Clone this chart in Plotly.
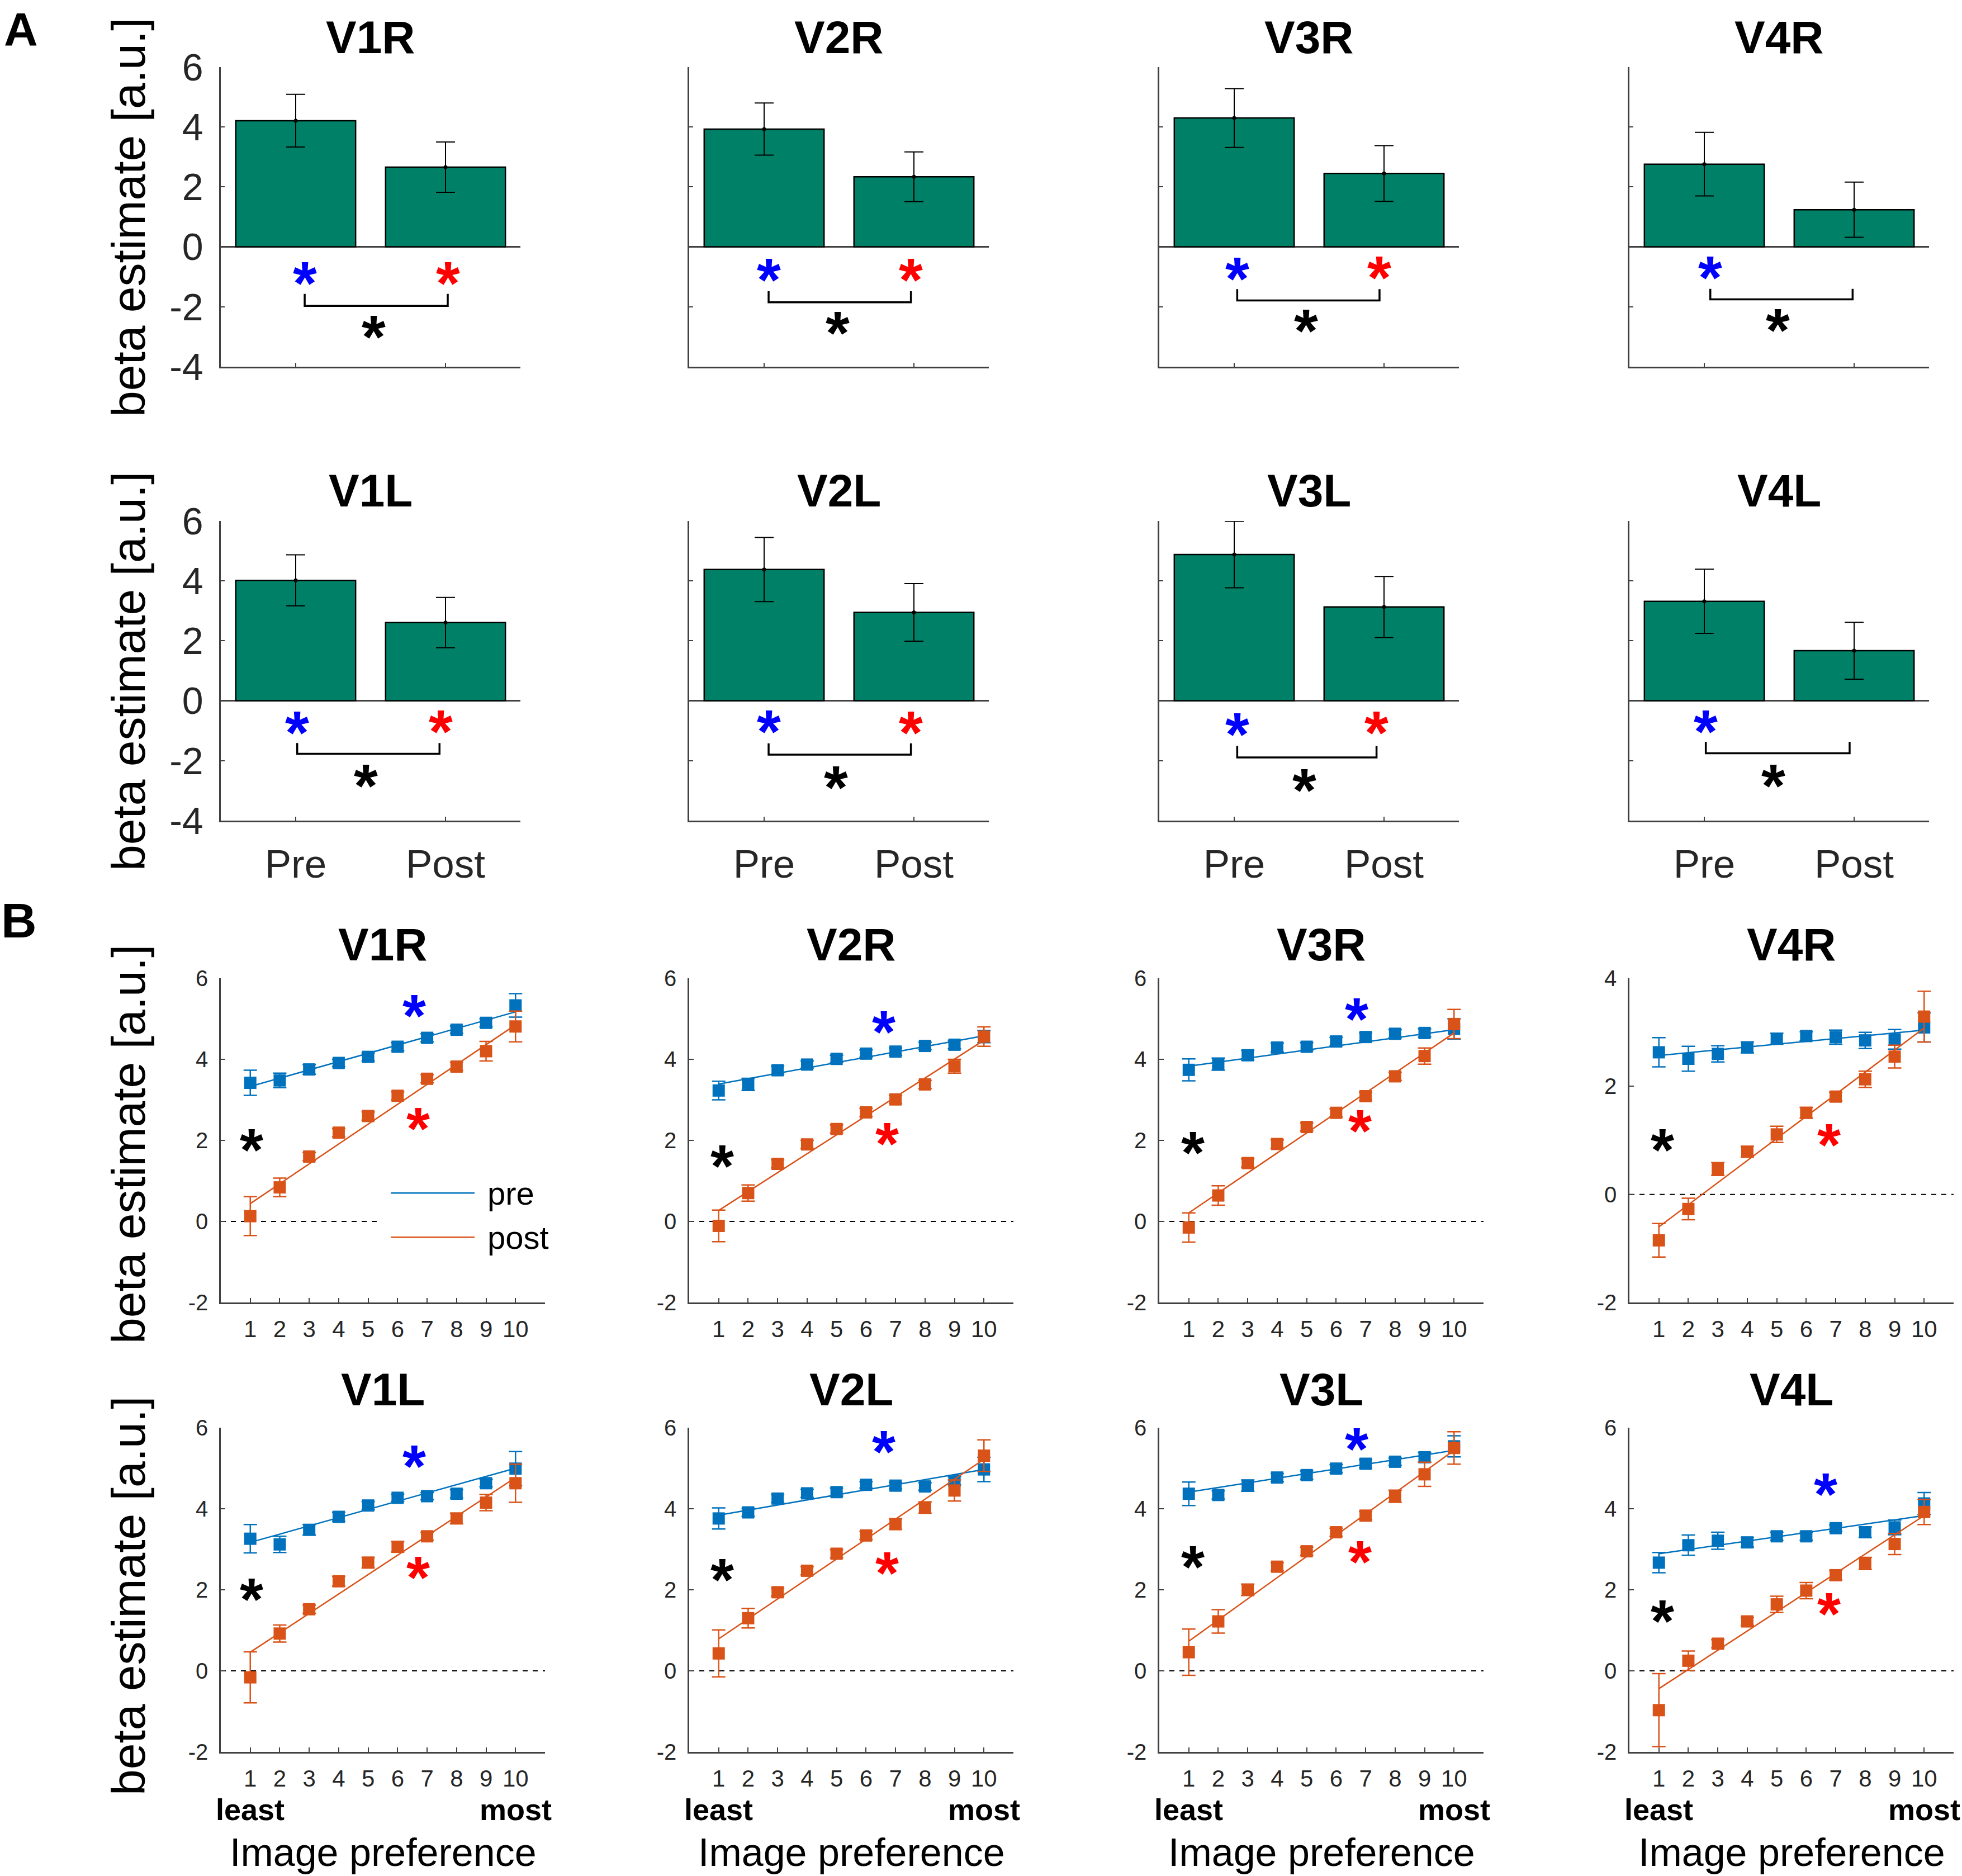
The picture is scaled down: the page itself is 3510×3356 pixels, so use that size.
import plotly.graph_objects as go

W, H = 3510, 3356
FONT = "Liberation Sans"

# ---------------- data ----------------
regions = ["V1R", "V2R", "V3R", "V4R", "V1L", "V2L", "V3L", "V4L"]
conditions = ["Pre", "Post"]

# Panel A: bar means and SEM
bar_pre = [4.21, 3.93, 4.30, 2.76, 4.02, 4.38, 4.88, 3.32]
bar_pre_err = [0.88, 0.87, 0.98, 1.06, 0.85, 1.07, 1.11, 1.07]
bar_post = [2.66, 2.34, 2.45, 1.24, 2.61, 2.95, 3.13, 1.67]
bar_post_err = [0.84, 0.83, 0.93, 0.92, 0.84, 0.96, 1.02, 0.95]

# Panel B: image preference rank
prefs = [1, 2, 3, 4, 5, 6, 7, 8, 9, 10]

pre_means = [
    [3.42, 3.48, 3.75, 3.91, 4.06, 4.31, 4.53, 4.73, 4.90, 5.33],
    [3.23, 3.38, 3.73, 3.87, 4.01, 4.14, 4.19, 4.33, 4.36, 4.56],
    [3.74, 3.88, 4.10, 4.29, 4.31, 4.44, 4.55, 4.63, 4.65, 4.75],
    [2.63, 2.51, 2.60, 2.72, 2.88, 2.93, 2.91, 2.85, 2.87, 3.09],
    [3.26, 3.12, 3.48, 3.80, 4.08, 4.27, 4.31, 4.37, 4.63, 4.99],
    [3.76, 3.91, 4.25, 4.38, 4.41, 4.59, 4.57, 4.55, 4.69, 4.97],
    [4.37, 4.34, 4.57, 4.77, 4.83, 4.99, 5.11, 5.16, 5.27, 5.54],
    [2.67, 3.10, 3.21, 3.17, 3.32, 3.32, 3.52, 3.42, 3.54, 4.13],
]
pre_err = [
    [0.31, 0.18, 0.12, 0.09, 0.10, 0.10, 0.10, 0.09, 0.10, 0.29],
    [0.23, 0.15, 0.10, 0.09, 0.09, 0.09, 0.09, 0.09, 0.10, 0.15],
    [0.27, 0.15, 0.12, 0.11, 0.10, 0.10, 0.10, 0.10, 0.10, 0.25],
    [0.27, 0.23, 0.15, 0.10, 0.10, 0.08, 0.13, 0.15, 0.18, 0.27],
    [0.35, 0.20, 0.13, 0.11, 0.10, 0.09, 0.09, 0.10, 0.09, 0.42],
    [0.26, 0.10, 0.10, 0.10, 0.10, 0.08, 0.08, 0.09, 0.10, 0.30],
    [0.29, 0.10, 0.14, 0.10, 0.10, 0.10, 0.10, 0.09, 0.12, 0.26],
    [0.25, 0.25, 0.21, 0.12, 0.10, 0.10, 0.08, 0.13, 0.18, 0.27],
]
post_means = [
    [0.13, 0.84, 1.60, 2.19, 2.60, 3.10, 3.52, 3.82, 4.20, 4.81],
    [-0.11, 0.70, 1.42, 1.90, 2.28, 2.69, 3.01, 3.38, 3.83, 4.56],
    [-0.15, 0.64, 1.44, 1.91, 2.33, 2.68, 3.09, 3.58, 4.08, 4.87],
    [-0.85, -0.27, 0.47, 0.79, 1.11, 1.51, 1.81, 2.13, 2.55, 3.29],
    [-0.16, 0.92, 1.52, 2.21, 2.67, 3.06, 3.32, 3.76, 4.15, 4.63],
    [0.43, 1.30, 1.94, 2.47, 2.89, 3.34, 3.62, 4.03, 4.45, 5.31],
    [0.46, 1.22, 2.00, 2.57, 2.95, 3.42, 3.83, 4.31, 4.85, 5.50],
    [-0.97, 0.25, 0.67, 1.22, 1.64, 1.98, 2.36, 2.65, 3.13, 3.92],
]
post_err = [
    [0.48, 0.23, 0.10, 0.10, 0.10, 0.10, 0.10, 0.10, 0.24, 0.38],
    [0.39, 0.20, 0.10, 0.10, 0.10, 0.10, 0.10, 0.10, 0.17, 0.24],
    [0.36, 0.24, 0.10, 0.10, 0.10, 0.10, 0.10, 0.10, 0.20, 0.36],
    [0.31, 0.20, 0.12, 0.10, 0.15, 0.10, 0.08, 0.15, 0.21, 0.47],
    [0.63, 0.21, 0.10, 0.12, 0.13, 0.13, 0.10, 0.13, 0.20, 0.47],
    [0.58, 0.24, 0.10, 0.10, 0.10, 0.10, 0.13, 0.14, 0.26, 0.39],
    [0.57, 0.29, 0.14, 0.10, 0.10, 0.10, 0.10, 0.15, 0.30, 0.40],
    [0.90, 0.24, 0.10, 0.10, 0.20, 0.20, 0.12, 0.15, 0.26, 0.31],
]
# linear-fit values at least (1) and most (10) preferred
pre_fit = [(3.33, 5.17), (3.39, 4.58), (3.83, 4.73), (2.57, 3.04),
           (3.17, 5.00), (3.84, 4.97), (4.41, 5.44), (2.89, 3.83)]
post_fit = [(0.44, 4.85), (0.27, 4.47), (0.21, 4.65), (-0.60, 3.08),
            (0.46, 4.77), (0.79, 5.22), (0.73, 5.44), (-0.44, 3.83)]

# significance markers, panel A: blue(x,y), red(x,y), bracket(x1,x2,top,bottom), black(x,y)
a_blue = [(1.06, -0.96), (1.03, -0.85), (1.02, -0.81), (1.04, -0.77),
          (1.01, -0.81), (1.03, -0.77), (1.02, -0.86), (1.01, -0.77)]
a_red = [(2.015, -0.96), (1.98, -0.85), (1.97, -0.77), None,
         (1.97, -0.77), (1.98, -0.81), (1.95, -0.81), None]
a_bracket = [(1.06, 2.015, -1.57, -1.97), (1.03, 1.98, -1.48, -1.85),
             (1.02, 1.97, -1.41, -1.79), (1.04, 1.99, -1.40, -1.75),
             (1.01, 1.96, -1.41, -1.77), (1.03, 1.98, -1.42, -1.80),
             (1.02, 1.95, -1.51, -1.89), (1.01, 1.97, -1.37, -1.75)]
a_black = [(1.52, -2.74), (1.49, -2.61), (1.48, -2.54), (1.49, -2.52),
           (1.47, -2.58), (1.48, -2.63), (1.47, -2.73), (1.46, -2.58)]

# significance markers, panel B
b_blue = [(6.56, 5.25), (6.60, 4.86), (6.70, 5.17), None,
          (6.56, 5.23), (6.60, 5.58), (6.70, 5.66), (6.66, 4.53)]
b_red = [(6.69, 2.47), (6.71, 2.10), (6.81, 2.41), (6.77, 1.05),
         (6.69, 2.48), (6.71, 2.59), (6.81, 2.87), (6.77, 1.58)]
b_black = [(1.04, 1.95), (1.11, 1.55), (1.13, 1.87), (1.11, 0.96),
           (1.04, 1.94), (1.11, 2.43), (1.13, 2.75), (1.11, 1.40)]

b_yrange = [(-2, 6), (-2, 6), (-2, 6), (-2, 4), (-2, 6), (-2, 6), (-2, 6), (-2, 6)]

# ---------------- styles ----------------
BAR_COLOR = "#008066"
PRE_COLOR = "#0072BD"
POST_COLOR = "#D95319"
AX_COLOR = "#404040"
TXT = "#262626"

col_left = [395, 1233, 2074, 2915]
A_W = 536
A_TOPS = [120, 932]
B_W = 580
B_TOPS = [1750, 2554]


def xdom(left, w):
    return [left / W, (left + w) / W]


def ydom(top, h):
    return [1 - (top + h) / H, 1 - top / H]


def px_x(p):
    return p / W


def px_y(p):
    return 1 - p / H


fig = go.Figure()
layout = {}
annotations = []
shapes = []

STAR_A = 110
STAR_B = 108


def star(xref, yref, pos, color, size):
    if pos is None:
        return
    annotations.append(dict(
        x=pos[0], y=pos[1], xref=xref, yref=yref, text="*", showarrow=False,
        xanchor="center", yanchor="middle", yshift=-0.115 * size,
        height=round(0.68 * size), valign="middle",
        font=dict(family=FONT, size=size, color=color, weight="bold")))


def base_axis():
    return dict(showgrid=False, showline=True, linecolor=AX_COLOR, linewidth=2.5,
                ticks="inside", ticklen=7, tickwidth=2, tickcolor=AX_COLOR,
                mirror=False, fixedrange=True, automargin=False)


# ---------------- Panel A ----------------
a_yticks = [-4, -2, 0, 2, 4, 6]
for i, reg in enumerate(regions):
    row, col = divmod(i, 4)
    n = i + 1
    xa = "x" if n == 1 else f"x{n}"
    ya = "y" if n == 1 else f"y{n}"
    xax = base_axis()
    xax.update(domain=xdom(col_left[col], A_W), range=[0.5, 2.5], anchor=ya,
               tickvals=[1, 2], ticktext=conditions, showticklabels=(row == 1),
               zeroline=False, ticklabelstandoff=14,
               tickfont=dict(family=FONT, size=71, color=TXT))
    yax = base_axis()
    yax.update(domain=ydom(A_TOPS[row], A_W), range=[-4, 6], anchor=xa,
               tickvals=a_yticks, ticktext=[str(v) for v in a_yticks],
               showticklabels=(col == 0),
               zeroline=True, zerolinecolor=AX_COLOR, zerolinewidth=2.5,
               ticklabelstandoff=15,
               tickfont=dict(family=FONT, size=68, color=TXT))
    layout["xaxis" if n == 1 else f"xaxis{n}"] = xax
    layout["yaxis" if n == 1 else f"yaxis{n}"] = yax

    fig.add_trace(go.Bar(x=[1, 2], y=[bar_pre[i], bar_post[i]], width=0.8,
                         marker=dict(color=BAR_COLOR, line=dict(color="black", width=2.5)),
                         xaxis=xa, yaxis=ya, showlegend=False, name=reg))
    fig.add_trace(go.Scatter(x=[1, 2], y=[bar_pre[i], bar_post[i]], mode="markers",
                             marker=dict(color="black", size=7),
                             error_y=dict(type="data", array=[bar_pre_err[i], bar_post_err[i]],
                                          color="black", thickness=2, width=17),
                             xaxis=xa, yaxis=ya, showlegend=False))
    # title
    annotations.append(dict(x=px_x(col_left[col] + A_W / 2),
                            y=px_y([66, 878][row]), xref="paper", yref="paper",
                            text=reg, showarrow=False, xanchor="center", yanchor="middle",
                            font=dict(family=FONT, size=82, color="black", weight="bold")))
    # significance
    star(xa, ya, a_blue[i], "#0000FF", STAR_A)
    star(xa, ya, a_red[i], "#FF0000", STAR_A)
    star(xa, ya, a_black[i], "black", STAR_A)
    x1, x2, top, bot = a_bracket[i]
    shapes.append(dict(type="path", xref=xa, yref=ya,
                       path=f"M {x1},{top} L {x1},{bot} L {x2},{bot} L {x2},{top}",
                       line=dict(color="black", width=3.5)))

# ---------------- Panel B ----------------
for i, reg in enumerate(regions):
    row, col = divmod(i, 4)
    n = 9 + i
    xa, ya = f"x{n}", f"y{n}"
    ylo, yhi = b_yrange[i]
    yt = list(range(ylo, yhi + 1, 2))
    xax = base_axis()
    xax.update(domain=xdom(col_left[col], B_W), range=[0, 11], anchor=ya,
               tickvals=prefs, ticktext=[str(p) for p in prefs],
               zeroline=False, ticklabelstandoff=9, ticklen=8,
               tickfont=dict(family=FONT, size=42, color=TXT))
    yax = base_axis()
    yax.update(domain=ydom(B_TOPS[row], B_W), range=[ylo, yhi], anchor=xa,
               tickvals=yt, ticktext=[str(v) for v in yt], zeroline=False, ticklen=8,
               ticklabelstandoff=12,
               tickfont=dict(family=FONT, size=40, color=TXT))
    layout[f"xaxis{n}"] = xax
    layout[f"yaxis{n}"] = yax

    # dashed zero line
    shapes.append(dict(type="line", xref=xa, yref=ya, x0=0, x1=11, y0=0, y1=0,
                       layer="below", line=dict(color="black", width=2, dash="dash")))

    for fit, means, errs, color, label in [
        (pre_fit[i], pre_means[i], pre_err[i], PRE_COLOR, "pre"),
        (post_fit[i], post_means[i], post_err[i], POST_COLOR, "post"),
    ]:
        fig.add_trace(go.Scatter(x=[prefs[0], prefs[-1]], y=list(fit), mode="lines",
                                 line=dict(color=color, width=2.5),
                                 xaxis=xa, yaxis=ya, showlegend=False, name=label))
        fig.add_trace(go.Scatter(x=prefs, y=means, mode="markers",
                                 marker=dict(symbol="square", size=22, color=color),
                                 error_y=dict(type="data", array=errs, color=color,
                                              thickness=2.5, width=12),
                                 xaxis=xa, yaxis=ya, showlegend=False, name=label))

    annotations.append(dict(x=px_x(col_left[col] + B_W / 2),
                            y=px_y([1689, 2485][row]), xref="paper", yref="paper",
                            text=reg, showarrow=False, xanchor="center", yanchor="middle",
                            font=dict(family=FONT, size=82, color="black", weight="bold")))
    star(xa, ya, b_blue[i], "#0000FF", STAR_B)
    star(xa, ya, b_red[i], "#FF0000", STAR_B)
    star(xa, ya, b_black[i], "black", STAR_B)

    if row == 1:
        for lbl, xv in [("least", prefs[0]), ("most", prefs[-1])]:
            annotations.append(dict(x=xv, y=px_y(3237), xref=xa, yref="paper", text=lbl,
                                    showarrow=False, xanchor="center", yanchor="middle",
                                    font=dict(family=FONT, size=54, color="black",
                                              weight="bold")))
        annotations.append(dict(x=px_x(col_left[col] + B_W / 2), y=px_y(3314),
                                xref="paper", yref="paper", text="Image preference",
                                showarrow=False, xanchor="center", yanchor="middle",
                                font=dict(family=FONT, size=70, color="black")))

# legend for V1R (panel B) drawn inside the axes
LEG_X = (5.4, 5.77, 8.61, 9.0)
LEG_Y = {"pre": 0.70, "post": -0.39}
shapes.append(dict(type="rect", xref="x9", yref="y9", x0=LEG_X[0], x1=11, y0=-0.95, y1=1.25,
                   layer="above", fillcolor="white", line=dict(width=0)))
for label, color in [("pre", PRE_COLOR), ("post", POST_COLOR)]:
    shapes.append(dict(type="line", xref="x9", yref="y9", x0=LEG_X[1], x1=LEG_X[2],
                       y0=LEG_Y[label], y1=LEG_Y[label], layer="above",
                       line=dict(color=color, width=2.5)))
    annotations.append(dict(x=LEG_X[3], y=LEG_Y[label], xref="x9", yref="y9", text=label,
                            showarrow=False, xanchor="left", yanchor="middle",
                            font=dict(family=FONT, size=58, color="black")))

# y-axis titles
for yc in [389, 1201, 2047, 2855]:
    annotations.append(dict(x=px_x(230), y=px_y(yc), xref="paper", yref="paper",
                            text="beta estimate [a.u.]", textangle=-90, showarrow=False,
                            xanchor="center", yanchor="middle",
                            font=dict(family=FONT, size=84, color="black")))

# panel letters
annotations.append(dict(x=px_x(37), y=px_y(4), xref="paper", yref="paper", text="A",
                        showarrow=False, xanchor="center", yanchor="top",
                        font=dict(family=FONT, size=84, color="black", weight="bold")))
annotations.append(dict(x=px_x(34), y=px_y(1646), xref="paper", yref="paper", text="B",
                        showarrow=False, xanchor="center", yanchor="middle",
                        font=dict(family=FONT, size=88, color="black", weight="bold")))

fig.update_layout(
    width=W, height=H, autosize=False,
    margin=dict(l=0, r=0, t=0, b=0, pad=0, autoexpand=False),
    paper_bgcolor="white", plot_bgcolor="white",
    showlegend=False, barmode="overlay",
    font=dict(family=FONT, color="black"),
    annotations=annotations, shapes=shapes,
    **layout,
)

fig.write_html("out.html", config={"displayModeBar": False},
               post_script="document.body.style.margin='0px';document.body.style.padding='0px';")
